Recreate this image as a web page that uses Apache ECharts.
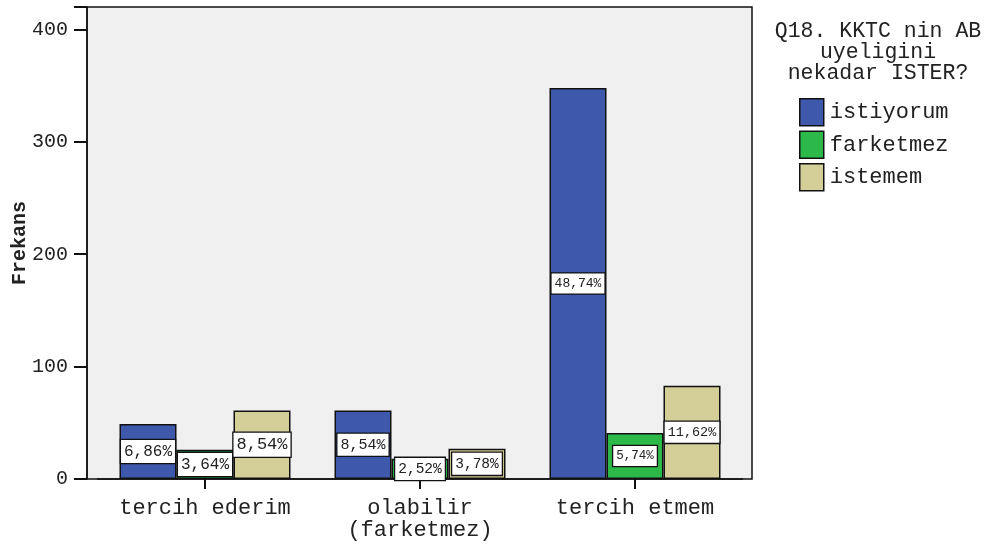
<!DOCTYPE html>
<html>
<head>
<meta charset="utf-8">
<script src="https://cdn.jsdelivr.net/npm/echarts@6/dist/echarts.min.js"></script>
<style>html,body{margin:0;padding:0;background:#fff}#c{width:984px;height:548px}</style>
</head>
<body>
<div id="c"></div>
<script>
const categories = ['tercih ederim', 'olabilir\n(farketmez)', 'tercih etmem'];
const seriesNames = ['istiyorum', 'farketmez', 'istemem'];
const istiyorum = [49, 61, 348];
const farketmez = [26, 18, 41];
const istemem = [61, 27, 83];
const pctIstiyorum = ['6,86%', '8,54%', '48,74%'];
const pctFarketmez = ['3,64%', '2,52%', '5,74%'];
const pctIstemem = ['8,54%', '3,78%', '11,62%'];
const yTicks = [0, 100, 200, 300, 400];

const colors = ['#3e58ac', '#2db84a', '#d4cf98'];
const labelFont = [[16, 15, 13], [16, 14.5, 12.5], [17, 14.5, 13.5]];
const values = [istiyorum, farketmez, istemem];
const pcts = [pctIstiyorum, pctFarketmez, pctIstemem];
const FONT = '"Liberation Mono", "DejaVu Sans Mono", monospace';

const chart = echarts.init(document.getElementById('c'), null, {renderer: 'canvas'});
const series = seriesNames.map((name, si) => ({
  name: name,
  type: 'bar',
  xAxisIndex: 1,
  yAxisIndex: 1,
  barWidth: 57,
  barGap: '0%',
  itemStyle: {color: colors[si], borderColor: '#111', borderWidth: 1.5},
  data: values[si].map((v, ci) => ({
    value: v,
    label: {fontSize: labelFont[si][ci]}
  })),
  label: {
    show: true,
    position: 'inside',
    formatter: p => pcts[si][p.dataIndex],
    fontFamily: FONT,
    color: '#222',
    backgroundColor: '#fff',
    borderColor: '#111',
    borderWidth: 1.3,
    padding: [4, 3, 3, 3]
  }
}));

chart.setOption({
  animation: false,
  textStyle: {fontFamily: FONT},
  title: {
    text: 'Q18. KKTC nin AB\nuyeligini\nnekadar ISTER?',
    left: 873,
    top: 16,
    textAlign: 'center',
    textStyle: {fontFamily: FONT, fontSize: 21.5, fontWeight: 'normal', color: '#222', lineHeight: 21}
  },
  legend: {
    orient: 'vertical',
    left: 799,
    top: 98,
    padding: 0,
    itemWidth: 24,
    itemHeight: 27,
    itemGap: 4,
    icon: 'rect',
    data: seriesNames,
    itemStyle: {borderColor: '#111', borderWidth: 1.5},
    textStyle: {fontFamily: FONT, fontSize: 22, color: '#222', lineHeight: 22, padding: [0, 0, 0, 1]}
  },
  grid: [
    {left: 87, top: 7, width: 665, height: 472, show: true, backgroundColor: '#f0f0f0', borderColor: '#111', borderWidth: 1.5, outerBoundsMode: 'none', containLabel: false},
    {left: 97.5, top: 7, width: 645, height: 472, outerBoundsMode: 'none', containLabel: false}
  ],
  xAxis: [
    {type: 'value', gridIndex: 0, show: false, min: 0, max: 1},
    {
      type: 'category', gridIndex: 1, data: categories,
      axisLine: {show: true, lineStyle: {color: '#111', width: 1.5}},
      axisTick: {show: true, alignWithLabel: true, length: 10, lineStyle: {color: '#111', width: 2}},
      axisLabel: {fontFamily: FONT, fontSize: 22, color: '#222', margin: 18, lineHeight: 22, interval: 0, hideOverlap: false}
    }
  ],
  yAxis: [
    {
      type: 'value', gridIndex: 0, min: 0, max: 420, interval: 100,
      name: 'Frekans', nameLocation: 'middle', nameGap: 57, nameRotate: 90, nameMoveOverlap: false,
      nameTextStyle: {fontFamily: FONT, fontSize: 20, fontWeight: 'bold', color: '#222'},
      axisLine: {show: true, lineStyle: {color: '#111', width: 1.5}},
      axisTick: {show: true, length: 13, lineStyle: {color: '#111', width: 2}},
      axisLabel: {fontFamily: FONT, fontSize: 20, color: '#222', margin: 19,
        formatter: v => yTicks.includes(v) ? String(v) : ''},
      splitLine: {show: false}
    },
    {type: 'value', gridIndex: 1, min: 0, max: 420, show: false}
  ],
  series: series
});
</script>
</body>
</html>
